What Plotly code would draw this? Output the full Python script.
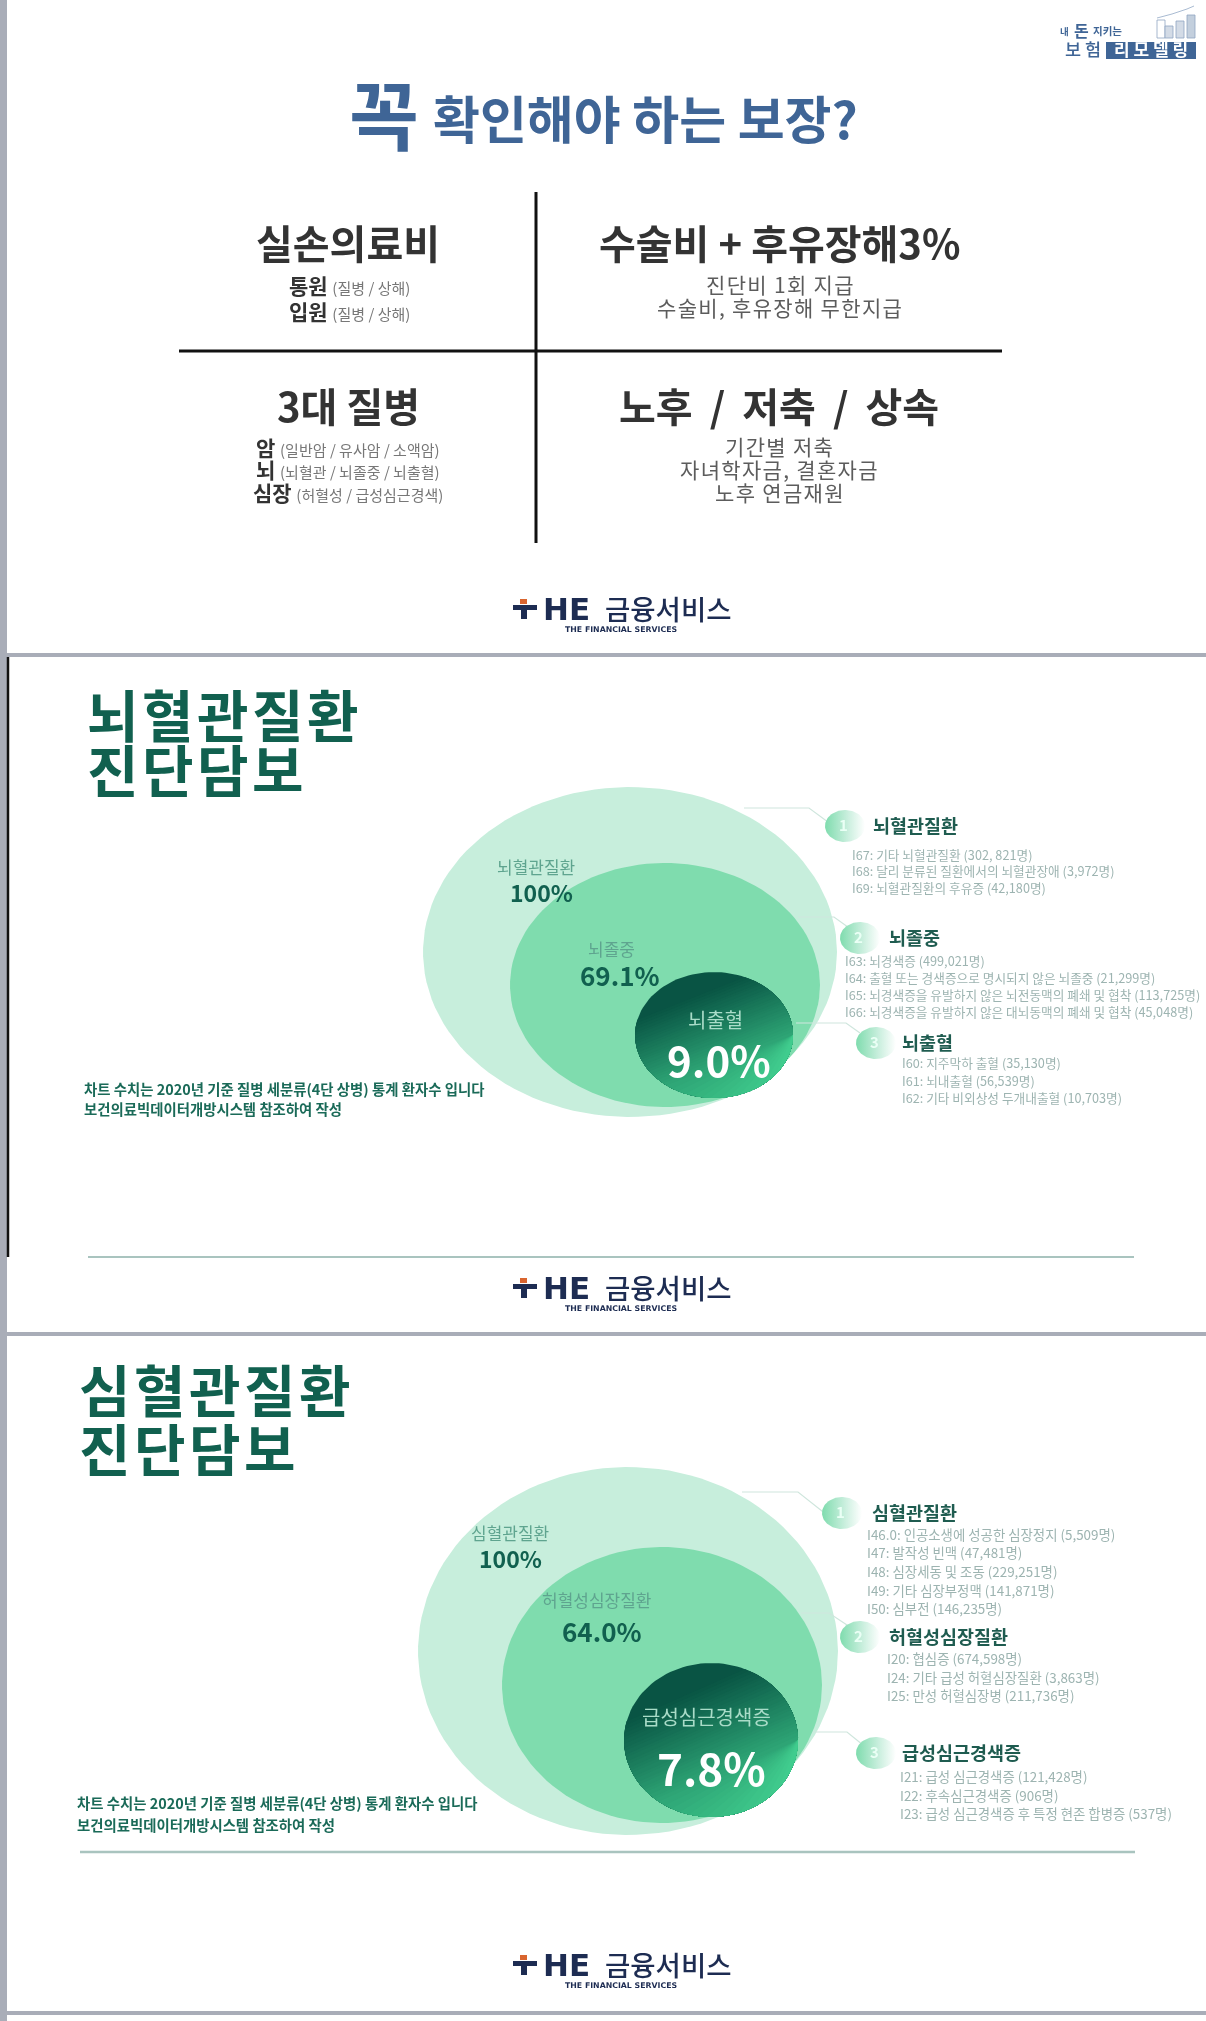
import numpy as np
import plotly.graph_objects as go

W, H = 1206, 2021
KR = "Noto Sans CJK KR"
THIN, HAIR = "\u2009", "\u200a"

# ---------- data / text ----------
title_big = "꼭"
title_rest = "확인해야 하는 보장?"
q_heads = ["실손의료비", "수술비 + 후유장해3%", "3대 질병", "노후 / 저축 / 상속"]
q1_lines = [("통원", "(질병 / 상해)"), ("입원", "(질병 / 상해)")]
q3_lines = [("암", "(일반암 / 유사암 / 소액암)"), ("뇌", "(뇌혈관 / 뇌졸중 / 뇌출혈)"), ("심장", "(허혈성 / 급성심근경색)")]
q2_lines = ["진단비 1회 지급", "수술비, 후유장해 무한지급"]
q4_lines = ["기간별 저축", "자녀학자금, 결혼자금", "노후 연금재원"]

brain_title = ["뇌혈관질환", "진단담보"]
brain_names = ["뇌혈관질환", "뇌졸중", "뇌출혈"]
brain_pct = ["100%", "69.1%", "9.0%"]
brain_items = [
    ["I67: 기타 뇌혈관질환 (302, 821명)", "I68: 달리 분류된 질환에서의 뇌혈관장애 (3,972명)", "I69: 뇌혈관질환의 후유증 (42,180명)"],
    ["I63: 뇌경색증 (499,021명)", "I64: 출혈 또는 경색증으로 명시되지 않은 뇌졸중 (21,299명)",
     "I65: 뇌경색증을 유발하지 않은 뇌전동맥의 폐쇄 및 협착 (113,725명)", "I66: 뇌경색증을 유발하지 않은 대뇌동맥의 폐쇄 및 협착 (45,048명)"],
    ["I60: 지주막하 출혈 (35,130명)", "I61: 뇌내출혈 (56,539명)", "I62: 기타 비외상성 두개내출혈 (10,703명)"],
]
heart_title = ["심혈관질환", "진단담보"]
heart_names = ["심혈관질환", "허혈성심장질환", "급성심근경색증"]
heart_pct = ["100%", "64.0%", "7.8%"]
heart_items = [
    ["I46.0: 인공소생에 성공한 심장정지 (5,509명)", "I47: 발작성 빈맥 (47,481명)", "I48: 심장세동 및 조동 (229,251명)",
     "I49: 기타 심장부정맥 (141,871명)", "I50: 심부전 (146,235명)"],
    ["I20: 협심증 (674,598명)", "I24: 기타 급성 허혈심장질환 (3,863명)", "I25: 만성 허혈심장병 (211,736명)"],
    ["I21: 급성 심근경색증 (121,428명)", "I22: 후속심근경색증 (906명)", "I23: 급성 심근경색증 후 특정 현존 합병증 (537명)"],
]
note_lines = ["차트 수치는 2020년 기준 질병 세분류(4단 상병) 통계 환자수 입니다", "보건의료빅데이터개방시스템 참조하여 작성"]
logo_main = ("HE", "금융서비스")
logo_sub = "THE FINANCIAL SERVICES"
corner = ["내", "돈", "지키는", "보 험", "리\u00a0모\u00a0델\u00a0링"]

# ---------- style / layout ----------
BLUE = "#3f6596"; DARK = "#333333"; GREY = "#5c5c5c"
GREEN = "#11604f"; LABEL = "#5fa48f"; ITEM = "#9db4b1"
C_OUT = "#c7eedc"; C_MID = "#7fdcae"; C_D0 = (9, 84, 68); C_D1 = (66, 208, 144)
EDGE = "#a9adb8"; NAVY = "#1d2c52"; ORANGE = "#d9652f"

fig = go.Figure()
anns = []
def spaced(s, ch):
    return ch.join(s)

def T(x, y, s, size, color, anchor="center", bold=False, family=KR, weight=None):
    f = dict(family=family, size=size, color=color)
    if weight:
        f["weight"] = weight
    anns.append(dict(x=x, y=y - 1.5, text=f"<b>{s}</b>" if bold else s, showarrow=False, xanchor=anchor, yanchor="middle",
                     xref="x", yref="y", font=f))

def ell(cx, cy, rx, ry, n=120):
    t = np.linspace(0, 2*np.pi, n)
    return cx + rx*np.cos(t), cy + ry*np.sin(t)

def fill_ell(cx, cy, rx, ry, color):
    x, y = ell(cx, cy, rx, ry)
    fig.add_trace(go.Scatter(x=x, y=y, mode="lines", line=dict(width=0), fill="toself", fillcolor=color, hoverinfo="skip", showlegend=False))

def grad_ell(cx, cy, rx, ry, bands=40):
    x, y = ell(cx, cy, rx, ry, 361)
    x, y = x[:-1], y[:-1]
    d = (x-cx)/rx*0.447 + (y-cy)/ry*0.894
    fill_ell(cx, cy, rx, ry, "rgb(%d,%d,%d)" % C_D0)
    for i in range(1, bands):
        f = i/bands
        th = -0.7 + 1.68*f
        m = d >= th
        if m.sum() < 3 or m.all():
            continue
        roll = np.where(~m)[0][-1] + 1
        xs = np.roll(x, -roll)[:m.sum()]; ys = np.roll(y, -roll)[:m.sum()]
        c = tuple(int(a + (b-a)*f) for a, b in zip(C_D0, C_D1))
        fig.add_trace(go.Scatter(x=xs, y=ys, mode="lines", line=dict(width=0), fill="toself",
                                 fillcolor="rgb(%d,%d,%d)" % c, hoverinfo="skip", showlegend=False))

def badge(cx, cy, label):
    x, y = ell(cx, cy, 20, 16)
    fig.add_trace(go.Scatter(x=x, y=y, mode="lines", line=dict(width=0), fill="toself", hoverinfo="skip", showlegend=False,
        fillgradient=dict(type="horizontal", colorscale=[[0, "#7fdcae"], [0.55, "#c7eedc"], [1, "#ffffff"]])))
    T(cx-2, cy, label, 15, "#eafff5", bold=True)

def poly(pts, color="#cfe6dd", w=1.2):
    fig.add_trace(go.Scatter(x=[p[0] for p in pts], y=[p[1] for p in pts], mode="lines",
                             line=dict(color=color, width=w), hoverinfo="skip", showlegend=False))

shapes = []
def rect(x0, y0, x1, y1, c):
    shapes.append(dict(type="rect", x0=x0, y0=y0, x1=x1, y1=y1, fillcolor=c, line_width=0, layer="above"))
def seg(x0, y0, x1, y1, c, w):
    shapes.append(dict(type="line", x0=x0, y0=y0, x1=x1, y1=y1, line=dict(color=c, width=w), layer="above"))

def logo(cy):
    rect(513, cy-4, 537, cy+1, NAVY)
    rect(521, cy-4, 527, cy+10, NAVY)
    rect(520, cy-10, 527, cy-5, ORANGE)
    T(541, cy+1, logo_main[0], 31, NAVY, "left", True, "DejaVu Sans")
    T(603, cy, logo_main[1], 27.5, NAVY, "left", weight=500)
    T(621, cy+22, logo_sub, 7.8, NAVY, bold=True, family="DejaVu Sans")

# frame
rect(0, 0, 7, H, EDGE)
for y0, y1 in [(653, 657), (1332, 1336), (2011, 2015)]:
    rect(0, y0, W, y1, EDGE)
seg(8, 657, 8, 1257, "#111111", 2.5)

# panel 1
T(384, 113, title_big, 76, BLUE, bold=True)
T(645, 118, title_rest, 51, BLUE, bold=True)
seg(536, 192, 536, 543, "#111111", 3)
seg(179, 351, 1002, 351, "#111111", 3)
cols = [348, 779, 348, 779]
for h, x, y in zip(q_heads, cols, [243, 243, 406, 406]):
    T(x, y, h.replace(" / ", f"{THIN} / {THIN}"), 40, DARK, bold=True)
for (a, b), y in zip(q1_lines, [286, 312]):
    T(349, y, f'<b>{a}</b> <span style="font-size:15px;color:#777">{b}</span>', 21, DARK)
for (a, b), y in zip(q3_lines, [448, 470, 493]):
    T(348, y, f'<b>{a}</b> <span style="font-size:15px;color:#777">{b}</span>', 21, DARK)
for s, y in zip(q2_lines, [285, 308]):
    T(779, y, spaced(s, HAIR), 21, GREY)
for s, y in zip(q4_lines, [447, 470, 493]):
    T(779, y, spaced(s, HAIR), 21, GREY)
logo(609)

def panel(title, tx, ty, circles, names, pct, nx, ny, px, py, psize, conn, badges, heads, hx, items, ix, iy, isize, note_x, note_y):
    for s, y in zip(title, ty):
        T(tx, y, spaced(s, HAIR), 56, GREEN, "left", True)
    fill_ell(*circles[0], C_OUT); fill_ell(*circles[1], C_MID); grad_ell(*circles[2])
    for i in range(3):
        T(nx[i], ny[i], names[i], 17 if i < 2 else 20, LABEL if i < 2 else "#a9dcc8")
        T(px[i], py[i], pct[i], psize[i], GREEN if i < 2 else "#ffffff", bold=True)
    for i in range(3):
        poly(conn[i])
        badge(*badges[i], str(i+1))
        T(hx[i], badges[i][1], heads[i], 18.5, "#1f5c50", "left", True)
        for s, y in zip(items[i], iy[i]):
            T(ix[i], y, s, isize, ITEM, "left")
    for s, y in zip(note_lines, note_y):
        T(note_x, y, s, 14.4, "#1a6a58", "left", True)

panel(brain_title, 85, [714, 769],
      [(630, 952, 207, 165), (665, 985, 155, 122), (714, 1035, 79, 63)],
      brain_names, brain_pct, [536, 611, 715], [868, 950, 1021], [541, 620, 719], [893, 976, 1060], [23, 26, 42],
      [[(744, 808), (809, 808), (832, 825)], [(798, 917), (834, 917), (852, 930)], [(796, 1023), (846, 1023), (860, 1033)]],
      [(845, 826), (860, 938), (876, 1043)], brain_names, [871, 887, 900],
      brain_items, [850, 843, 900], [[856, 872, 889], [962, 979, 996, 1013], [1064, 1082, 1099]], 12.7, 82, [1090, 1110])
seg(88, 1257, 1134, 1257, "#a9c4bf", 2)
logo(1288)

panel(heart_title, 77, [1389, 1448],
      [(628, 1651, 210, 184), (662, 1685, 160, 138), (711, 1740, 87, 77)],
      heart_names, heart_pct, [510, 596, 706], [1534, 1601, 1718], [510, 602, 711], [1559, 1632, 1768], [23, 26, 44],
      [[(742, 1492), (798, 1492), (827, 1515)], [(801, 1613), (829, 1613), (850, 1627)], [(814, 1732), (847, 1732), (863, 1745)]],
      [(842, 1513), (860, 1637), (876, 1753)], heart_names, [870, 887, 900],
      heart_items, [865, 885, 898], [[1535, 1553, 1572, 1591, 1609], [1659, 1678, 1696], [1777, 1796, 1814]], 13.4, 75, [1804, 1826])
seg(80, 1852, 1135, 1852, "#a9c4bf", 2.5)
logo(1965)

# corner mark
T(1058, 32, corner[0], 9.5, BLUE, "left", True)
T(1072, 31, corner[1], 16, BLUE, "left", True)
T(1091, 32, corner[2], 10.5, BLUE, "left", True)
T(1063, 50, corner[3], 17.5, BLUE, "left", weight=500)
rect(1106, 42, 1196, 59, BLUE)
T(1151, 50, corner[4], 17, "#ffffff", bold=True)
for x0, y0, c in [(1157, 20, "rgba(0,0,0,0)"), (1165, 26, "#d3dbe6"), (1176, 21, "#d3dbe6"), (1187, 15, "#c3cfdd")]:
    shapes.append(dict(type="rect", x0=x0, y0=y0, x1=x0+8, y1=38, line=dict(color="#8fa5c1", width=0.8), fillcolor=c))
poly([(1157, 18), (1172, 14), (1187, 9), (1194, 6)], "#a9bbd2", 1)

fig.update_layout(width=W, height=H, margin=dict(l=0, r=0, t=0, b=0), autosize=False,
                  paper_bgcolor="white", plot_bgcolor="white", showlegend=False,
                  xaxis=dict(range=[0, W], visible=False, fixedrange=True),
                  yaxis=dict(range=[H, 0], visible=False, fixedrange=True),
                  annotations=anns, shapes=shapes)
fig.write_html("out.html", config=dict(displayModeBar=False),
               post_script="document.body.style.margin='0';document.documentElement.style.overflow='hidden';"
                           "document.querySelector('.plotly-graph-div').style.filter='blur(0.5px)';")
